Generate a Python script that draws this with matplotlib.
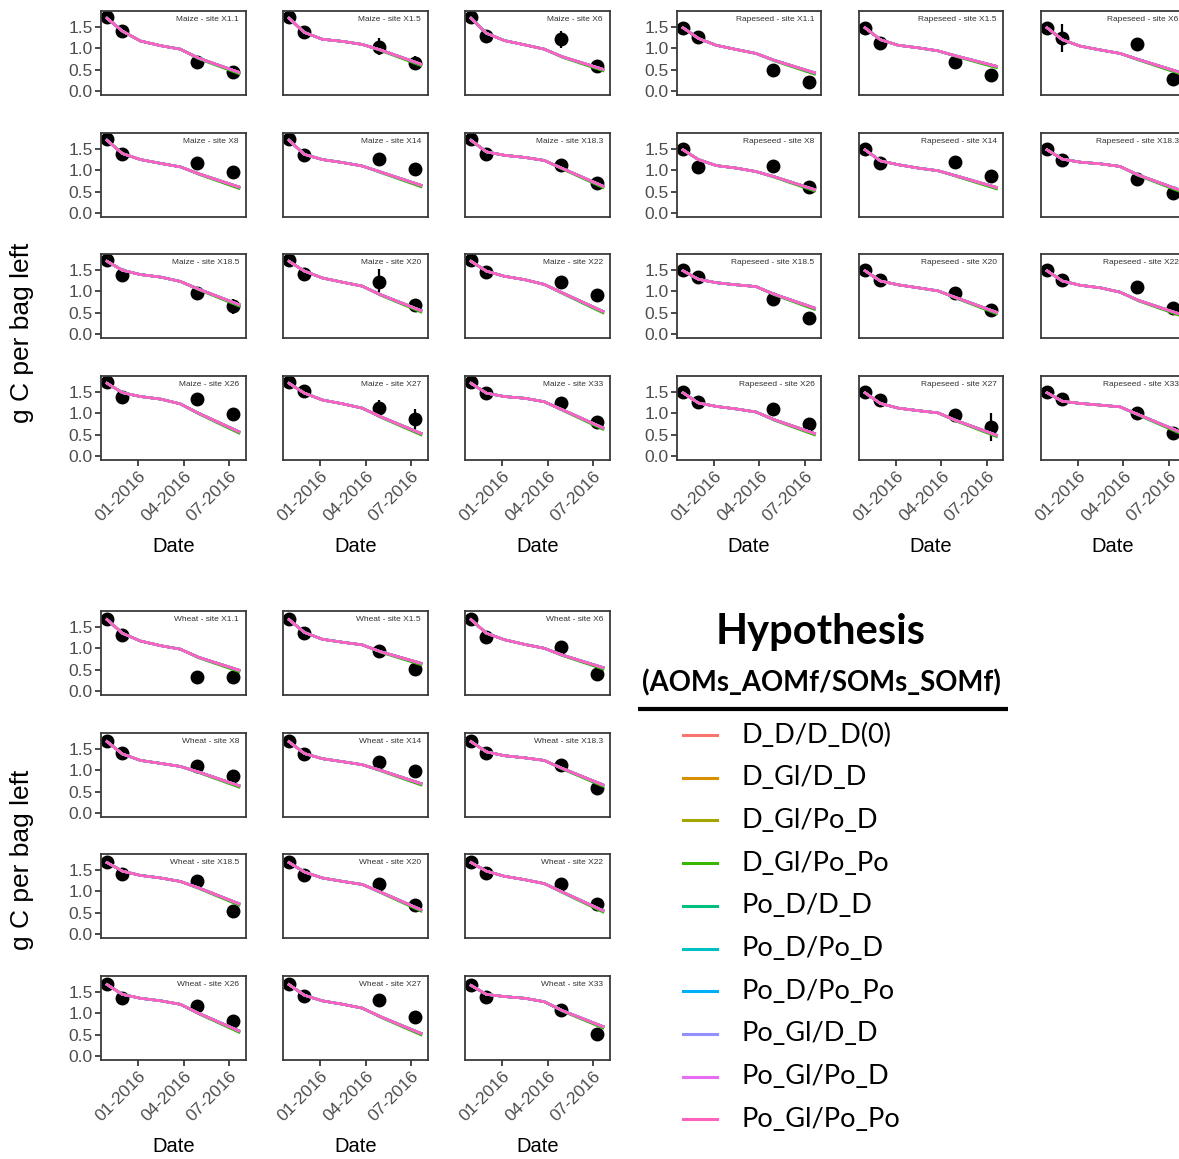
import matplotlib
matplotlib.use("Agg")
import matplotlib.pyplot as plt
import matplotlib.dates as mdates
import pandas as pd

W, H = 1179, 1159

sites = ["X1.1", "X1.5", "X6", "X8", "X14", "X18.3", "X18.5", "X20", "X22", "X26", "X27", "X33"]
obs_dates = ["2015-10-30", "2015-11-30", "2016-04-28", "2016-07-09"]
model_dates = ["2015-10-30", "2015-11-30", "2016-01-05", "2016-02-15", "2016-03-25", "2016-05-01", "2016-07-21"]
tick_dates = ["2016-01-01", "2016-04-01", "2016-07-01"]
tick_labels = ["01-2016", "04-2016", "07-2016"]

hypotheses = ["D_D/D_D(0)", "D_Gl/D_D", "D_Gl/Po_D", "D_Gl/Po_Po", "Po_D/D_D",
              "Po_D/Po_D", "Po_D/Po_Po", "Po_Gl/D_D", "Po_Gl/Po_D", "Po_Gl/Po_Po"]
hyp_colors = ["#F8766D", "#D89000", "#A3A500", "#39B600", "#00BF7D",
              "#00BFC4", "#00B0F6", "#9590FF", "#E76BF3", "#FF62BC"]
# shift of each hypothesis on the last two model dates (only D_Gl/Po_Po shows)
hyp_end_shift = [[0, 0], [0, 0], [0, 0], [-0.015, -0.035], [0, 0],
                 [0, 0], [0, 0], [0, 0], [0, 0], [0, 0]]

maize_obs = [
    [1.72, 1.41, 0.69, 0.45], [1.72, 1.37, 1.04, 0.66], [1.72, 1.29, 1.21, 0.59],
    [1.73, 1.39, 1.16, 0.95], [1.73, 1.35, 1.27, 1.02], [1.73, 1.39, 1.12, 0.70],
    [1.72, 1.38, 0.95, 0.65], [1.72, 1.41, 1.21, 0.69], [1.72, 1.45, 1.21, 0.91],
    [1.72, 1.39, 1.33, 0.98], [1.72, 1.51, 1.12, 0.86], [1.72, 1.47, 1.25, 0.80],
]
maize_err = [
    [0.03, 0.03, 0.04, 0.04], [0.03, 0.03, 0.20, 0.15], [0.03, 0.03, 0.20, 0.04],
    [0.03, 0.03, 0.13, 0.04], [0.03, 0.03, 0.04, 0.04], [0.03, 0.03, 0.12, 0.04],
    [0.03, 0.03, 0.04, 0.17], [0.03, 0.03, 0.30, 0.04], [0.03, 0.03, 0.04, 0.04],
    [0.03, 0.03, 0.04, 0.04], [0.03, 0.03, 0.20, 0.25], [0.03, 0.03, 0.04, 0.04],
]
maize_model = [
    [1.70, 1.40, 1.17, 1.06, 0.98, 0.77, 0.44], [1.70, 1.37, 1.21, 1.16, 1.09, 0.96, 0.63],
    [1.70, 1.35, 1.18, 1.08, 0.98, 0.80, 0.51], [1.70, 1.39, 1.25, 1.16, 1.08, 0.92, 0.61],
    [1.70, 1.37, 1.25, 1.18, 1.10, 0.96, 0.65], [1.70, 1.43, 1.35, 1.30, 1.23, 1.04, 0.63],
    [1.70, 1.49, 1.39, 1.33, 1.23, 1.05, 0.69], [1.70, 1.47, 1.31, 1.21, 1.12, 0.92, 0.55],
    [1.70, 1.47, 1.35, 1.27, 1.16, 0.96, 0.53], [1.70, 1.48, 1.39, 1.33, 1.22, 1.00, 0.57],
    [1.70, 1.47, 1.31, 1.22, 1.12, 0.92, 0.53], [1.70, 1.47, 1.39, 1.35, 1.27, 1.08, 0.66],
]

rape_obs = [
    [1.48, 1.27, 0.50, 0.22], [1.48, 1.13, 0.68, 0.38], [1.48, 1.24, 1.11, 0.28],
    [1.50, 1.07, 1.09, 0.62], [1.50, 1.17, 1.20, 0.87], [1.50, 1.23, 0.80, 0.47],
    [1.50, 1.34, 0.81, 0.38], [1.50, 1.26, 0.97, 0.57], [1.50, 1.26, 1.11, 0.61],
    [1.50, 1.26, 1.10, 0.75], [1.50, 1.32, 0.97, 0.68], [1.50, 1.34, 1.01, 0.53],
]
rape_err = [
    [0.03, 0.03, 0.04, 0.04], [0.03, 0.03, 0.04, 0.04], [0.03, 0.33, 0.04, 0.15],
    [0.03, 0.03, 0.04, 0.04], [0.03, 0.03, 0.04, 0.04], [0.03, 0.03, 0.04, 0.10],
    [0.03, 0.03, 0.12, 0.04], [0.03, 0.03, 0.04, 0.04], [0.03, 0.03, 0.04, 0.04],
    [0.03, 0.03, 0.04, 0.04], [0.03, 0.10, 0.04, 0.33], [0.03, 0.03, 0.04, 0.10],
]
rape_model = [
    [1.48, 1.23, 1.07, 0.97, 0.88, 0.72, 0.43], [1.48, 1.20, 1.07, 1.01, 0.94, 0.82, 0.58],
    [1.48, 1.20, 1.05, 0.96, 0.88, 0.74, 0.45], [1.48, 1.25, 1.11, 1.05, 0.97, 0.85, 0.55],
    [1.48, 1.22, 1.13, 1.05, 0.99, 0.87, 0.60], [1.48, 1.26, 1.19, 1.15, 1.09, 0.89, 0.55],
    [1.48, 1.28, 1.20, 1.15, 1.11, 0.93, 0.61], [1.48, 1.24, 1.15, 1.08, 1.01, 0.85, 0.51],
    [1.48, 1.24, 1.14, 1.08, 0.98, 0.79, 0.48], [1.48, 1.24, 1.16, 1.10, 1.03, 0.85, 0.53],
    [1.48, 1.23, 1.12, 1.06, 1.01, 0.83, 0.49], [1.48, 1.28, 1.23, 1.19, 1.15, 0.97, 0.58],
]

wheat_obs = [
    [1.69, 1.30, 0.34, 0.32], [1.69, 1.35, 0.94, 0.51], [1.69, 1.27, 1.04, 0.41],
    [1.69, 1.41, 1.10, 0.86], [1.69, 1.38, 1.20, 0.99], [1.69, 1.41, 1.13, 0.59],
    [1.69, 1.41, 1.23, 0.53], [1.69, 1.39, 1.16, 0.67], [1.69, 1.43, 1.17, 0.70],
    [1.69, 1.36, 1.17, 0.82], [1.69, 1.41, 1.31, 0.91], [1.66, 1.37, 1.08, 0.52],
]
wheat_err = [
    [0.03, 0.03, 0.12, 0.04], [0.03, 0.03, 0.04, 0.08], [0.03, 0.03, 0.04, 0.04],
    [0.03, 0.03, 0.12, 0.04], [0.03, 0.03, 0.04, 0.04], [0.03, 0.03, 0.04, 0.04],
    [0.03, 0.03, 0.04, 0.04], [0.03, 0.03, 0.04, 0.04], [0.03, 0.03, 0.04, 0.04],
    [0.03, 0.03, 0.04, 0.04], [0.03, 0.03, 0.04, 0.04], [0.03, 0.03, 0.04, 0.04],
]
wheat_model = [
    [1.67, 1.35, 1.17, 1.06, 0.98, 0.79, 0.49], [1.67, 1.37, 1.21, 1.14, 1.08, 0.92, 0.65],
    [1.67, 1.35, 1.20, 1.09, 1.00, 0.84, 0.55], [1.67, 1.38, 1.23, 1.16, 1.09, 0.96, 0.64],
    [1.67, 1.39, 1.27, 1.20, 1.13, 1.00, 0.69], [1.67, 1.43, 1.34, 1.29, 1.23, 1.04, 0.66],
    [1.67, 1.47, 1.37, 1.31, 1.23, 1.08, 0.71], [1.67, 1.45, 1.31, 1.23, 1.16, 0.98, 0.57],
    [1.67, 1.47, 1.35, 1.27, 1.18, 0.98, 0.55], [1.67, 1.44, 1.35, 1.29, 1.21, 1.00, 0.59],
    [1.67, 1.42, 1.29, 1.21, 1.12, 0.92, 0.53], [1.65, 1.44, 1.39, 1.35, 1.27, 1.06, 0.69],
]

plt.rcParams["font.family"] = ["Liberation Sans", "DejaVu Sans"]

fig = plt.figure(figsize=(W / 100, H / 100), dpi=100)
fig.patch.set_facecolor("white")

obs_x = mdates.date2num(pd.to_datetime(obs_dates))
mod_x = mdates.date2num(pd.to_datetime(model_dates))
tick_x = mdates.date2num(pd.to_datetime(tick_dates))
xlim = mdates.date2num(pd.to_datetime(["2015-10-18", "2016-08-03"]))


def px_axes(left, top, right, bottom):
    return fig.add_axes([left / W, 1 - bottom / H, (right - left) / W, (bottom - top) / H])


def draw_block(crop, obs, err, model, cols, tops, height=84):
    for i, site in enumerate(sites):
        r, c = divmod(i, 3)
        ax = px_axes(cols[c][0], tops[r], cols[c][1], tops[r] + height)
        ax.errorbar(obs_x, obs[i], yerr=err[i], fmt="o", color="black", ms=9,
                    elinewidth=1.6, capsize=0, zorder=2)
        for k, name in enumerate(hypotheses):
            vals = list(model[i])
            vals[-2] += hyp_end_shift[k][0]
            vals[-1] += hyp_end_shift[k][1]
            ax.plot(mod_x, vals, color=hyp_colors[k], lw=1.8, zorder=3,
                    solid_joinstyle="round")
        ax.set_xlim(xlim)
        ax.set_ylim(-0.089, 1.869)
        ax.set_yticks([0, 0.5, 1.0, 1.5])
        ax.set_xticks(tick_x)
        for s in ax.spines.values():
            s.set_color("#3a3a3a")
            s.set_linewidth(1.3)
        ax.tick_params(length=4, width=1.3, color="#3a3a3a", labelcolor="#4d4d4d",
                       labelsize=12.5, pad=2)
        if c == 0:
            ax.set_yticklabels(["0.0", "0.5", "1.0", "1.5"])
        else:
            ax.tick_params(axis="y", left=False, labelleft=False)
        if r == 3:
            ax.set_xticklabels(tick_labels, rotation=45, ha="right", va="top",
                               rotation_mode="anchor")
        else:
            ax.tick_params(axis="x", bottom=False, labelbottom=False)
        ax.text(0.955, 0.9, crop + " - site " + site, transform=ax.transAxes,
                ha="right", va="center", fontsize=6, color="#333333")


rows_top = [11, 133, 254, 376]
rows_bottom_block = [611, 733, 854, 976]
left_cols = [(101, 245.5), (283, 427.5), (465, 609.5)]
right_cols = [(677, 821), (859, 1003), (1041, 1185)]

draw_block("Maize", maize_obs, maize_err, maize_model, left_cols, rows_top)
draw_block("Rapeseed", rape_obs, rape_err, rape_model, right_cols, rows_top)
draw_block("Wheat", wheat_obs, wheat_err, wheat_model, left_cols, rows_bottom_block)

# overlay in pixel coordinates for labels and legend
ov = fig.add_axes([0, 0, 1, 1], zorder=10)
ov.set_xlim(0, W)
ov.set_ylim(H, 0)
ov.axis("off")
ov.patch.set_alpha(0)

for cols, y in [(left_cols, 547), (right_cols, 547), (left_cols, 1147)]:
    for (a, b) in cols:
        ov.text((a + b) / 2, y, "Date", ha="center", va="center", fontsize=14.5)
ov.text(22, 333, "g C per bag left", rotation=90, ha="center", va="center", fontsize=19)
ov.text(22, 860, "g C per bag left", rotation=90, ha="center", va="center", fontsize=19)

leg_font = ["Lato", "DejaVu Sans"]
ov.text(821, 632, "Hypothesis", ha="center", va="center", fontsize=30,
        fontweight="bold", family=leg_font)
ov.text(821, 683, "(AOMs_AOMf/SOMs_SOMf)", ha="center", va="center", fontsize=19.8,
        fontweight="bold", family=leg_font)
ov.plot([638, 1008], [709, 709], color="black", lw=3, solid_capstyle="butt")
for k, name in enumerate(hypotheses):
    y = 735 + k * 42.7
    ov.plot([683, 717], [y, y], color=hyp_colors[k], lw=2.2)
    ov.text(741, y, name, ha="left", va="center", fontsize=19.5, family=leg_font)

fig.savefig("out.png", dpi=100)
